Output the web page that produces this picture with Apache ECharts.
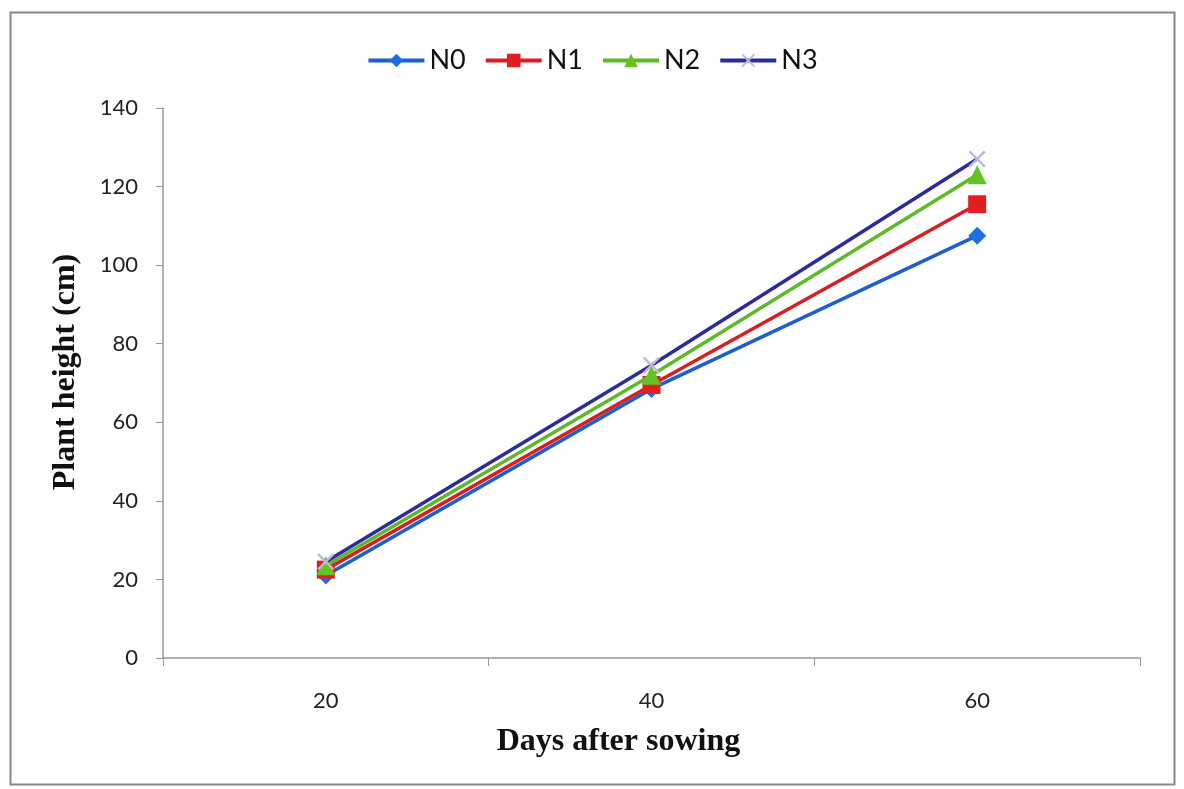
<!DOCTYPE html>
<html><head><meta charset="utf-8">
<script src="https://cdn.jsdelivr.net/npm/echarts@6/dist/echarts.min.js"></script>
<style>html,body{margin:0;padding:0;background:#fff}#c{width:1184px;height:789px}</style>
</head><body><div id="c"></div>
<script>
const categories = ['20', '40', '60'];
const N0 = [21, 68.5, 107.5];
const N1 = [22.5, 69.5, 115.5];
const N2 = [23.5, 72, 123];
const N3 = [24.5, 74.5, 127];
const seriesNames = ['N0', 'N1', 'N2', 'N3'];

const crossPath = 'path://M0,1L1,0L5,4L9,0L10,1L6,5L10,9L9,10L5,6L1,10L0,9L4,5Z';
const styles = [
  {line: '#1F5FCC', fill: '#1E6FE0', symbol: 'diamond', size: 18},
  {line: '#D42020', fill: '#E02020', symbol: 'rect', size: 18},
  {line: '#5DB82A', fill: '#66C224', symbol: 'triangle', size: 19},
  {line: '#2B2B9A', fill: '#B8B8D8', symbol: crossPath, size: 17}
];
const data = [N0, N1, N2, N3];

const chart = echarts.init(document.getElementById('c'));
chart.setOption({
  animation: false,
  backgroundColor: '#fff',
  graphic: [{type: 'rect', shape: {x: 10.5, y: 12.5, width: 1164, height: 772}, style: {fill: 'none', stroke: '#888', lineWidth: 2}}],
  legend: {
    top: 42, left: 'center',
    itemWidth: 56, itemHeight: 17, itemGap: 18,
    lineStyle: {width: 4},
    textStyle: {fontFamily: 'Lato, "Open Sans", sans-serif', fontSize: 27, color: '#111'},
    data: seriesNames
  },
  grid: {left: 163, right: 44, top: 108, bottom: 131},
  xAxis: {
    type: 'category', data: categories, boundaryGap: true,
    name: 'Days after sowing', nameLocation: 'middle', nameGap: 68,
    nameTextStyle: {fontFamily: '"Liberation Serif", serif', fontWeight: 'bold', fontSize: 32, color: '#111', padding: [0, 66, 0, 0]},
    axisLine: {lineStyle: {color: '#999', width: 1.5}},
    axisTick: {show: true, length: 8, lineStyle: {color: '#999'}},
    axisLabel: {fontFamily: 'Lato, "Open Sans", sans-serif', fontSize: 22, color: '#222', margin: 32},
    splitLine: {show: false}
  },
  yAxis: {
    type: 'value', min: 0, max: 140, interval: 20,
    name: 'Plant height (cm)', nameLocation: 'middle', nameGap: 81,
    nameTextStyle: {fontFamily: '"Liberation Serif", serif', fontWeight: 'bold', fontSize: 32, color: '#111', padding: [0, 0, 0, 22]},
    axisLine: {show: true, lineStyle: {color: '#999', width: 1.5}},
    axisTick: {show: true, length: 7, lineStyle: {color: '#999'}},
    axisLabel: {fontFamily: 'Lato, "Open Sans", sans-serif', fontSize: 22, color: '#222', margin: 25},
    splitLine: {show: false}
  },
  series: seriesNames.map((n, i) => ({
    name: n, type: 'line', data: data[i],
    symbol: styles[i].symbol, symbolSize: styles[i].size, showSymbol: true,
    lineStyle: {color: styles[i].line, width: 3.5},
    itemStyle: {color: styles[i].fill, borderColor: styles[i].fill, borderWidth: 0},
    z: 2 + i
  }))
});
</script></body></html>
